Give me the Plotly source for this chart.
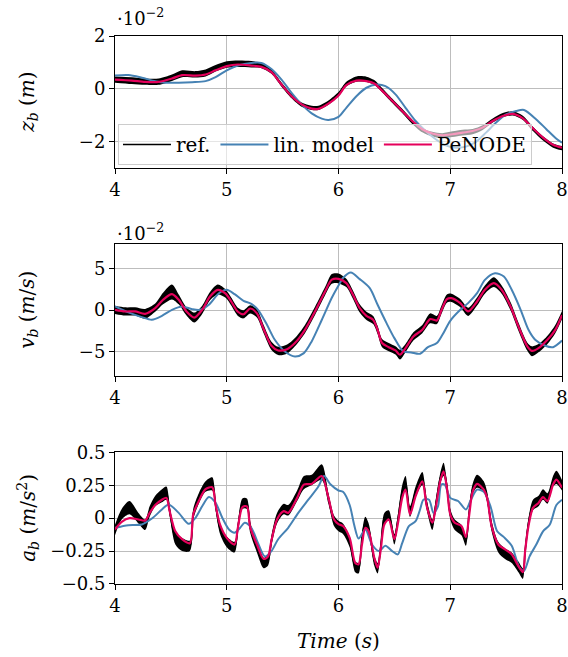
import numpy as np
import plotly.graph_objects as go

# ---------------- z_b : vertical displacement (units of 1e-2 m) ----------------
t_z = [4.0, 4.15, 4.27, 4.39, 4.51, 4.6, 4.72, 4.81, 4.9, 5.0, 5.1, 5.22, 5.31, 5.4, 5.49,
       5.58, 5.67, 5.76, 5.82, 5.91, 6.0, 6.07, 6.16, 6.25, 6.32, 6.39, 6.48, 6.57, 6.66, 6.75,
       6.84, 6.93, 7.02, 7.11, 7.2, 7.29, 7.38, 7.47, 7.56, 7.65, 7.74, 7.83, 7.92, 8.0]
z_ref_mid = [0.35, 0.31, 0.27, 0.27, 0.42, 0.57, 0.55, 0.60, 0.78, 0.92, 0.95, 0.93, 0.88, 0.65, 0.16,
             -0.28, -0.6, -0.72, -0.72, -0.52, -0.2, 0.18, 0.37, 0.36, 0.24, -0.05, -0.45, -0.84, -1.25, -1.57,
             -1.72, -1.78, -1.72, -1.66, -1.62, -1.47, -1.2, -1.0, -0.93, -1.1, -1.52, -1.88, -2.15, -2.25]
z_ref_spread = [0.12, 0.13, 0.12, 0.12, 0.12, 0.13, 0.12, 0.13, 0.12, 0.12, 0.12, 0.12, 0.1, 0.08, 0.08,
                0.08, 0.08, 0.08, 0.08, 0.08, 0.08, 0.09, 0.1, 0.1, 0.09, 0.08, 0.08, 0.08, 0.08, 0.08,
                0.09, 0.1, 0.11, 0.11, 0.1, 0.09, 0.08, 0.08, 0.08, 0.08, 0.08, 0.08, 0.08, 0.08]
z_node = [0.35, 0.31, 0.26, 0.26, 0.39, 0.52, 0.50, 0.54, 0.70, 0.86, 0.92, 0.88, 0.83, 0.63, 0.16,
          -0.28, -0.59, -0.75, -0.76, -0.56, -0.25, 0.14, 0.31, 0.29, 0.2, -0.07, -0.45, -0.84, -1.22, -1.53,
          -1.69, -1.76, -1.72, -1.66, -1.6, -1.47, -1.22, -1.03, -0.95, -1.12, -1.5, -1.85, -2.12, -2.23]
t_z_lin = [4.0, 4.12, 4.24, 4.36, 4.45, 4.57, 4.69, 4.81, 4.9, 5.0, 5.1, 5.22, 5.31, 5.4, 5.49,
           5.58, 5.67, 5.76, 5.85, 5.91, 6.0, 6.07, 6.16, 6.25, 6.34, 6.42, 6.51, 6.6, 6.69, 6.78,
           6.87, 6.96, 7.05, 7.14, 7.23, 7.32, 7.41, 7.5, 7.59, 7.66, 7.77, 7.86, 7.95, 8.0]
z_lin = [0.50, 0.52, 0.42, 0.29, 0.23, 0.23, 0.25, 0.29, 0.44, 0.70, 0.88, 0.98, 0.98, 0.75, 0.35,
         -0.15, -0.59, -0.93, -1.13, -1.18, -1.06, -0.72, -0.28, 0.04, 0.16, 0.10, -0.21, -0.72, -1.22, -1.6,
         -1.91, -2.14, -2.23, -2.19, -2.01, -1.66, -1.28, -0.97, -0.84, -0.8, -1.16, -1.53, -1.89, -2.04]

# ---------------- v_b : vertical velocity (units of 1e-2 m/s) ----------------
t_v = [4.0, 4.09, 4.18, 4.27, 4.36, 4.43, 4.51, 4.57, 4.64, 4.71, 4.78, 4.85, 4.92, 4.99, 5.04,
       5.1, 5.15, 5.21, 5.27, 5.33, 5.4, 5.46, 5.54, 5.61, 5.7, 5.79, 5.88, 5.94, 6.0, 6.07,
       6.13, 6.19, 6.25, 6.31, 6.35, 6.39, 6.45, 6.51, 6.55, 6.6, 6.67, 6.75, 6.82, 6.88, 6.92,
       6.97, 7.01, 7.09, 7.16, 7.24, 7.31, 7.39, 7.46, 7.54, 7.61, 7.69, 7.73, 7.79, 7.87, 7.94, 8.0]
v_ref_mid = [0.04, -0.16, -0.16, -0.45, 0.3, 1.4, 2.2, 1.3, -0.16, -0.9, 0.04, 1.7, 2.5, 2.0, 1.05,
             -0.2, -0.5, 0.1, -0.4, -2.3, -4.33, -4.95, -4.74, -3.9, -2.3, -0.1, 2.3, 3.8, 3.85, 3.3,
             1.86, 0.2, -0.7, -1.2, -2.4, -4.0, -4.5, -4.9, -5.4, -4.62, -3.2, -2.3, -1.0, -1.2, 0.0,
             1.4, 1.5, 0.85, -0.2, 1.05, 2.5, 3.4, 2.5, 0.45, -2.0, -4.45, -5.0, -4.62, -3.6, -2.3, -0.6]
v_ref_spread = [0.5, 0.5, 0.5, 0.6, 0.5, 0.7, 0.9, 0.6, 0.5, 0.6, 0.5, 0.5, 0.6, 0.5, 0.5,
                0.5, 0.5, 0.5, 0.5, 0.5, 0.5, 0.5, 0.55, 0.5, 0.5, 0.5, 0.5, 0.6, 0.6, 0.5,
                0.5, 0.5, 0.5, 0.5, 0.5, 0.5, 0.5, 0.5, 0.6, 0.5, 0.5, 0.5, 0.6, 0.5, 0.5,
                0.5, 0.5, 0.5, 0.5, 0.5, 0.5, 0.6, 0.5, 0.5, 0.5, 0.5, 0.6, 0.5, 0.5, 0.5, 0.5]
v_node = [0.04, -0.16, -0.16, -0.45, 0.24, 1.26, 1.95, 1.26, -0.16, -0.9, 0.04, 1.66, 2.47, 2.0, 1.05,
          -0.2, -0.5, 0.2, -0.4, -2.3, -4.33, -4.9, -4.74, -4.0, -2.39, -0.16, 2.27, 3.7, 3.8, 3.28,
          1.86, 0.24, -0.69, -1.17, -2.39, -4.0, -4.5, -4.9, -5.42, -4.62, -3.2, -2.39, -1.09, -1.26, -0.04,
          1.34, 1.46, 0.85, -0.16, 1.05, 2.47, 3.28, 2.47, 0.45, -1.98, -4.41, -4.95, -4.62, -3.6, -2.39, -0.6]
t_v_lin = [4.0, 4.12, 4.24, 4.33, 4.42, 4.51, 4.6, 4.69, 4.76, 4.84, 4.93, 5.0, 5.07, 5.15, 5.22,
           5.28, 5.36, 5.43, 5.52, 5.61, 5.69, 5.76, 5.85, 5.94, 6.0, 6.04, 6.11, 6.19, 6.28, 6.35,
           6.43, 6.5, 6.58, 6.65, 6.73, 6.8, 6.88, 6.93, 7.0, 7.09, 7.16, 7.24, 7.31, 7.4, 7.48,
           7.55, 7.63, 7.7, 7.76, 7.85, 7.92, 8.0]
v_lin = [0.45, -0.28, -0.85, -1.17, -0.69, 0.04, 0.45, 0.12, 0.04, 0.65, 2.06, 2.47, 1.94, 1.13, 0.77,
         0.04, -1.78, -3.6, -5.02, -5.63, -5.22, -3.8, -1.2, 1.5, 3.0, 3.9, 4.57, 3.77, 2.67, 0.65,
         -1.58, -3.4, -5.02, -5.14, -5.3, -4.5, -4.0, -3.0, -1.3, 0.04, 0.85, 2.06, 3.68, 4.49, 4.09,
         2.47, 0.04, -2.39, -3.6, -4.33, -4.5, -3.7]

# ---------------- a_b : vertical acceleration (m/s^2) ----------------
t_a = [4.0, 4.06, 4.13, 4.21, 4.27, 4.31, 4.36, 4.42, 4.46, 4.49, 4.54, 4.6, 4.67, 4.7, 4.75,
       4.81, 4.87, 4.9, 4.94, 5.0, 5.07, 5.1, 5.14, 5.18, 5.21, 5.27, 5.33, 5.37, 5.4, 5.45,
       5.51, 5.55, 5.63, 5.69, 5.76, 5.85, 5.91, 5.96, 6.0, 6.04, 6.1, 6.15, 6.18, 6.21, 6.24,
       6.27, 6.32, 6.35, 6.38, 6.41, 6.45, 6.5, 6.53, 6.57, 6.6, 6.64, 6.69, 6.75, 6.79, 6.84,
       6.87, 6.91, 6.94, 6.97, 7.0, 7.04, 7.1, 7.14, 7.17, 7.2, 7.24, 7.3, 7.33, 7.37, 7.43,
       7.49, 7.55, 7.61, 7.65, 7.67, 7.7, 7.74, 7.79, 7.83, 7.87, 7.92, 7.95, 8.0]
a_ref_mid = [-0.09, 0.03, 0.08, 0.0, -0.05, 0.05, 0.13, 0.17, 0.19, 0.05, -0.15, -0.2, -0.21, 0.03, 0.15,
             0.24, 0.26, 0.1, -0.08, -0.18, -0.22, -0.07, 0.11, 0.11, -0.07, -0.22, -0.34, -0.32, -0.17, 0.0,
             0.07, 0.06, 0.17, 0.27, 0.29, 0.35, 0.15, -0.02, -0.06, -0.08, -0.18, -0.37, -0.38, -0.15, -0.03,
             -0.08, -0.32, -0.38, -0.2, 0.0, 0.02, -0.16, -0.02, 0.2, 0.27, 0.05, 0.2, 0.3, 0.1, -0.05,
             0.1, 0.3, 0.37, 0.24, 0.03, -0.05, -0.09, -0.17, 0.05, 0.22, 0.28, 0.24, 0.16, -0.06, -0.22,
             -0.27, -0.3, -0.37, -0.42, -0.25, -0.04, 0.1, 0.13, 0.18, 0.15, 0.28, 0.31, 0.25]
a_ref_spread = [0.04, 0.04, 0.05, 0.04, 0.04, 0.04, 0.04, 0.05, 0.05, 0.04, 0.05, 0.05, 0.04, 0.04, 0.04,
                0.04, 0.05, 0.04, 0.04, 0.04, 0.04, 0.04, 0.04, 0.04, 0.04, 0.04, 0.04, 0.04, 0.04, 0.04,
                0.04, 0.04, 0.04, 0.05, 0.04, 0.06, 0.04, 0.04, 0.04, 0.04, 0.04, 0.04, 0.04, 0.04, 0.04,
                0.04, 0.04, 0.04, 0.04, 0.04, 0.04, 0.04, 0.04, 0.05, 0.05, 0.04, 0.04, 0.05, 0.04, 0.04,
                0.04, 0.04, 0.05, 0.04, 0.04, 0.04, 0.04, 0.04, 0.04, 0.04, 0.05, 0.04, 0.04, 0.04, 0.04,
                0.04, 0.04, 0.04, 0.04, 0.04, 0.04, 0.04, 0.04, 0.04, 0.04, 0.04, 0.05, 0.04]
a_node = [-0.086, -0.028, 0.0, -0.01, -0.018, 0.04, 0.10, 0.14, 0.154, 0.05, -0.1, -0.16, -0.19, 0.03, 0.13,
          0.22, 0.235, 0.10, -0.05, -0.15, -0.2, -0.07, 0.083, 0.09, -0.07, -0.2, -0.31, -0.29, -0.17, -0.01,
          0.053, 0.04, 0.154, 0.255, 0.26, 0.32, 0.154, -0.01, -0.045, -0.06, -0.15, -0.34, -0.35, -0.2, -0.073,
          -0.1, -0.3, -0.376, -0.225, -0.048, -0.01, -0.16, -0.048, 0.154, 0.217, 0.028, 0.167, 0.28, 0.09, -0.035,
          0.078, 0.28, 0.356, 0.23, 0.028, -0.035, -0.06, -0.144, 0.028, 0.2, 0.26, 0.217, 0.154, -0.06, -0.2,
          -0.237, -0.275, -0.364, -0.41, -0.25, -0.06, 0.078, 0.116, 0.16, 0.13, 0.255, 0.293, 0.23]
t_a_lin = [4.0, 4.12, 4.24, 4.33, 4.42, 4.48, 4.57, 4.66, 4.72, 4.78, 4.84, 4.9, 4.96, 5.02, 5.07,
           5.12, 5.16, 5.22, 5.28, 5.34, 5.4, 5.46, 5.55, 5.64, 5.73, 5.82, 5.87, 5.93, 6.0, 6.04,
           6.1, 6.14, 6.18, 6.24, 6.3, 6.36, 6.42, 6.48, 6.53, 6.57, 6.63, 6.69, 6.73, 6.76, 6.81,
           6.85, 6.89, 6.92, 6.95, 7.0, 7.07, 7.14, 7.18, 7.24, 7.3, 7.36, 7.42, 7.48, 7.55, 7.62,
           7.66, 7.71, 7.77, 7.83, 7.89, 7.95, 8.0]
a_lin = [-0.073, -0.053, -0.048, -0.003, 0.066, 0.104, 0.04, -0.043, 0.003, 0.09, 0.16, 0.116, 0.003, -0.086, -0.11,
         -0.073, -0.035, -0.073, -0.19, -0.29, -0.25, -0.16, -0.073, 0.04, 0.14, 0.24, 0.32, 0.255, 0.21, 0.2,
         0.1, -0.05, -0.154, -0.086, -0.2, -0.25, -0.21, -0.25, -0.275, -0.19, -0.06, -0.023, 0.066, 0.14, 0.14,
         0.04, 0.09, 0.255, 0.255, 0.154, 0.13, 0.066, 0.13, 0.217, 0.2, 0.09, -0.1, -0.144, -0.21, -0.376,
         -0.4, -0.29, -0.2, -0.1, -0.05, 0.1, 0.14]

x_ticks = [4, 5, 6, 7, 8]

C_REF = "black"
C_LIN = "#4682b4"
C_NODE = "#e5005b"
FONT = "DejaVu Serif"

fig = go.Figure()

panels = [
    (1, t_z, z_ref_mid, z_ref_spread, z_node, t_z_lin, z_lin),
    (2, t_v, v_ref_mid, v_ref_spread, v_node, t_v_lin, v_lin),
    (3, t_a, a_ref_mid, a_ref_spread, a_node, t_a_lin, a_lin),
]

for k, t, mid, spread, node, t_lin, lin in panels:
    xa = "x" if k == 1 else f"x{k}"
    ya = "y" if k == 1 else f"y{k}"
    mid = np.asarray(mid)
    spread = np.asarray(spread)
    first = k == 1
    # measurement noise band of the reference signal
    fig.add_trace(go.Scatter(x=t, y=mid - spread, mode="lines", xaxis=xa, yaxis=ya,
                             line=dict(width=0, shape="spline", smoothing=0.8),
                             showlegend=False, hoverinfo="skip"))
    fig.add_trace(go.Scatter(x=t, y=mid + spread, mode="lines", xaxis=xa, yaxis=ya,
                             fill="tonexty", fillcolor=C_REF,
                             line=dict(width=0, shape="spline", smoothing=0.8),
                             showlegend=False, hoverinfo="skip"))
    fig.add_trace(go.Scatter(x=t, y=mid, mode="lines", name="ref.", xaxis=xa, yaxis=ya,
                             line=dict(color=C_REF, width=1.6, shape="spline", smoothing=0.8),
                             legendgroup="ref", showlegend=first))
    fig.add_trace(go.Scatter(x=t_lin, y=lin, mode="lines", name="lin. model", xaxis=xa, yaxis=ya,
                             line=dict(color=C_LIN, width=2, shape="spline", smoothing=0.8),
                             legendgroup="lin", showlegend=first))
    fig.add_trace(go.Scatter(x=t, y=node, mode="lines", name="PeNODE", xaxis=xa, yaxis=ya,
                             line=dict(color=C_NODE, width=2.2, shape="spline", smoothing=0.8),
                             legendgroup="node", showlegend=first))

axis_common = dict(showline=True, mirror=True, linecolor="black", linewidth=1,
                   showgrid=True, gridcolor="#bdbdbd", gridwidth=1, zeroline=False,
                   ticks="outside", ticklen=5, tickcolor="black", automargin=False,
                   tickfont=dict(family=FONT, size=18, color="black"))

domains = [[0.7591, 1.0], [0.3796, 0.6199], [0.0, 0.2403]]
y_ranges = [[-3, 2], [-8, 8], [-0.5, 0.5]]
y_tickvals = [[-2, 0, 2], [-5, 0, 5], [-0.5, -0.25, 0, 0.25, 0.5]]
y_ticktext = [["−2", "0", "2"], ["−5", "0", "5"], ["−0.5", "−0.25", "0", "0.25", "0.5"]]

layout = dict(
    width=568, height=657,
    margin=dict(l=115, r=6, t=36, b=73),
    paper_bgcolor="white", plot_bgcolor="white",
    font=dict(family=FONT, size=18, color="black"),
    legend=dict(orientation="h", x=0.0067, y=0.8394, xanchor="left", yanchor="top",
                bgcolor="rgba(255,255,255,0.6)", bordercolor="#cccccc", borderwidth=1,
                font=dict(family=FONT, size=20, color="black"), itemwidth=48,
                tracegroupgap=0),
    showlegend=True,
)
for i in range(3):
    sx = "" if i == 0 else str(i + 1)
    layout["xaxis" + sx] = dict(axis_common, domain=[0, 1], range=[4, 8], anchor="y" + sx,
                                tickvals=x_ticks, ticktext=[str(v) for v in x_ticks])
    layout["yaxis" + sx] = dict(axis_common, domain=domains[i], range=y_ranges[i], anchor="x" + sx,
                                tickvals=y_tickvals[i], ticktext=y_ticktext[i])

titles = [
    ("<i>z</i><sub><i>b</i></sub> (<i>m</i>)", 0.8796),
    ("<i>v</i><sub><i>b</i></sub> (<i>m</i>/<i>s</i>)", 0.5),
    ("<i>a</i><sub><i>b</i></sub> (<i>m</i>/<i>s</i><sup>2</sup>)", 0.1204),
]
annotations = []
for text, yc in titles:
    annotations.append(dict(text=text, x=-0.195, y=yc, xref="paper", yref="paper",
                            textangle=-90, showarrow=False, xanchor="center", yanchor="middle",
                            font=dict(family=FONT, size=20, color="black")))
for yc in (1.0347, 0.6423):
    annotations.append(dict(text="·10<sup>−2</sup>", x=0.0, y=yc, xref="paper", yref="paper",
                            showarrow=False, xanchor="left", yanchor="middle",
                            font=dict(family=FONT, size=18, color="black")))
annotations.append(dict(text="<i>Time</i> (<i>s</i>)", x=0.5, y=-0.104, xref="paper", yref="paper",
                        showarrow=False, xanchor="center", yanchor="middle",
                        font=dict(family=FONT, size=20, color="black")))
layout["annotations"] = annotations

fig.update_layout(**layout)
fig.write_html("out.html")
